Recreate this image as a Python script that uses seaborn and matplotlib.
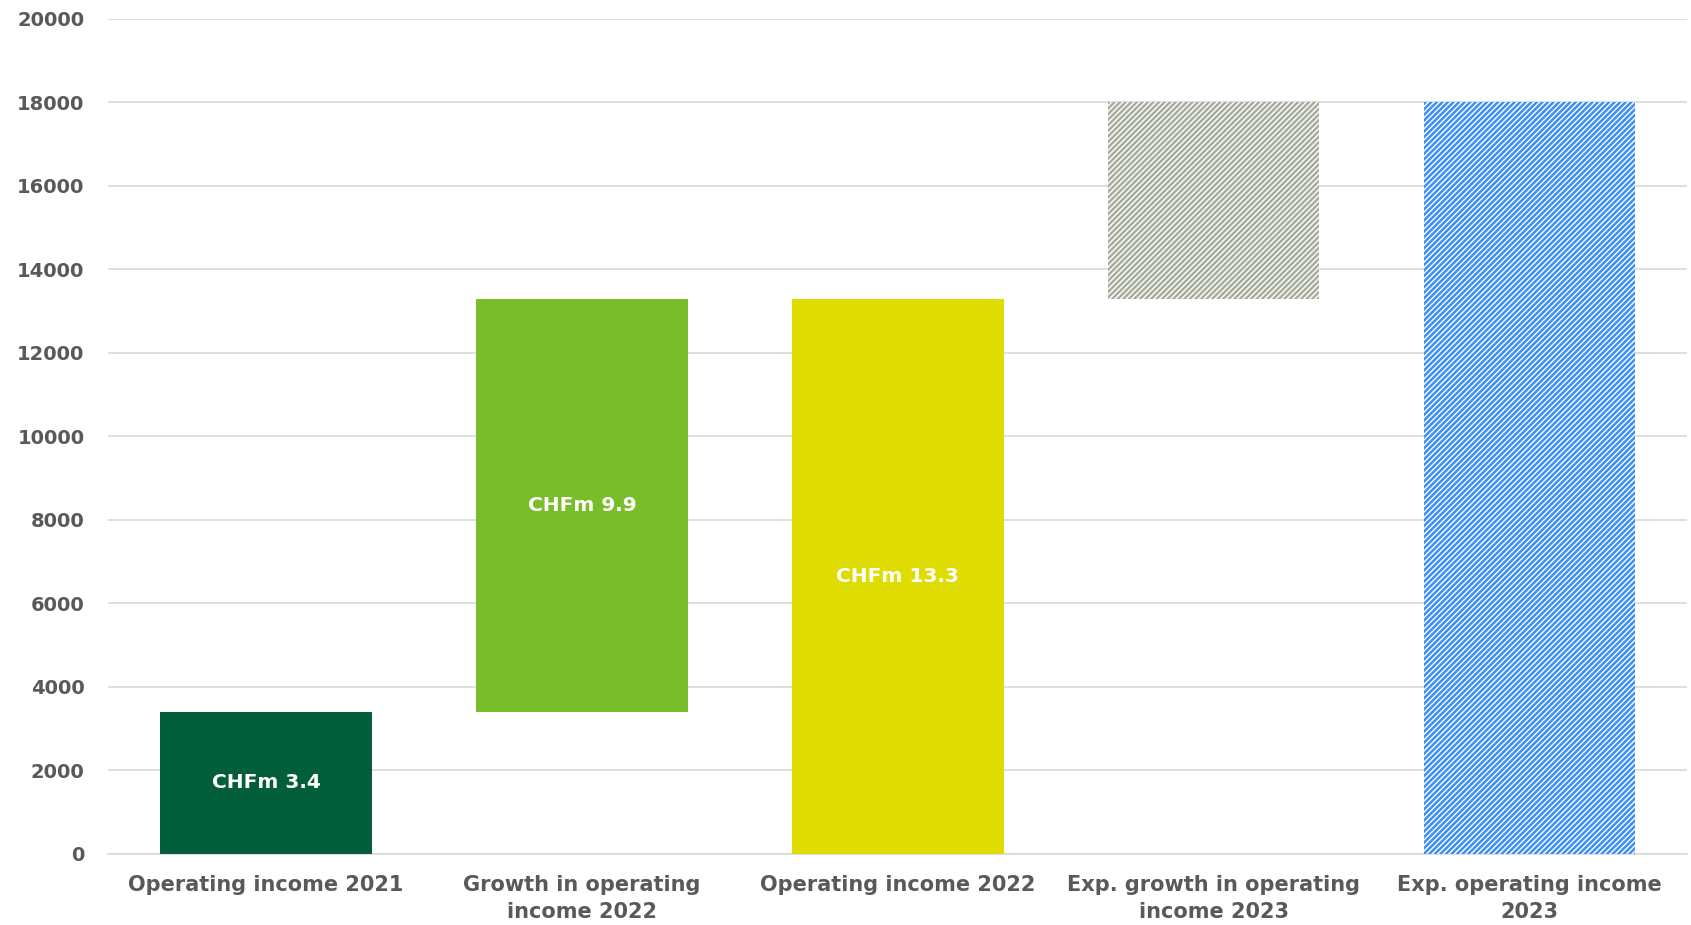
import matplotlib
matplotlib.use("Agg")
import matplotlib.pyplot as plt
import seaborn as sns
import pandas as pd

categories = ["Operating income 2021", "Growth in operating\nincome 2022", "Operating income 2022",
              "Exp. growth in operating\nincome 2023", "Exp. operating income\n2023"]
bottoms = [0, 3400, 0, 13300, 0]
heights = [3400, 9900, 13300, 4700, 18000]
bar_labels = ["CHFm 3.4", "CHFm 9.9", "CHFm 13.3", "", ""]
y_ticks = [0, 2000, 4000, 6000, 8000, 10000, 12000, 14000, 16000, 18000, 20000]

colors = ["#035E3C", "#7ABD2A", "#DEDC00", "#A7AD9C", "#3D8EF7"]
hatched = [False, False, False, True, True]

sns.set_theme(style="white")
plt.rcParams["font.family"] = ["DejaVu Sans"]
plt.rcParams["hatch.linewidth"] = 1.8

fig = plt.figure(figsize=(16.91, 9.25), dpi=100)
ax = fig.add_axes([0.0639, 0.0768, 0.934, 0.903])

df = pd.DataFrame({"cat": categories, "h": heights})
sns.barplot(data=df, x="cat", y="h", order=categories, bottom=bottoms, color="#888888",
            width=0.67, errorbar=None, ax=ax, zorder=3)

for p, c, hch in zip(ax.patches, colors, hatched):
    p.set_linewidth(0)
    if hch:
        p.set_facecolor("white")
        p.set_edgecolor(c)
        p.set_hatch("//////")
    else:
        p.set_facecolor(c)

for p, lab in zip(ax.patches, bar_labels):
    if lab:
        ax.text(p.get_x() + p.get_width() / 2, p.get_y() + p.get_height() / 2, lab,
                ha="center", va="center", color="white", fontsize=14.5, fontweight="bold", zorder=4)

ax.set_xlim(-0.5, 4.5)
ax.set_ylim(0, 20000)
ax.set_yticks(y_ticks)
ax.set_yticklabels([str(v) for v in y_ticks])
ax.set_xlabel("")
ax.set_ylabel("")
ax.grid(axis="y", color="#D9D9D9", linewidth=1.2, zorder=0)
ax.set_axisbelow(True)
for s in ["top", "right", "left"]:
    ax.spines[s].set_visible(False)
ax.spines["bottom"].set_color("#D9D9D9")
ax.spines["bottom"].set_linewidth(1.2)
ax.tick_params(axis="y", length=0, pad=17, labelsize=14, labelcolor="#595959")
ax.tick_params(axis="x", length=0, pad=15, labelsize=15, labelcolor="#595959")
for t in ax.get_xticklabels() + ax.get_yticklabels():
    t.set_fontweight("bold")
for t in ax.get_xticklabels():
    t.set_linespacing(1.45)

fig.savefig("out.png", dpi=100)
